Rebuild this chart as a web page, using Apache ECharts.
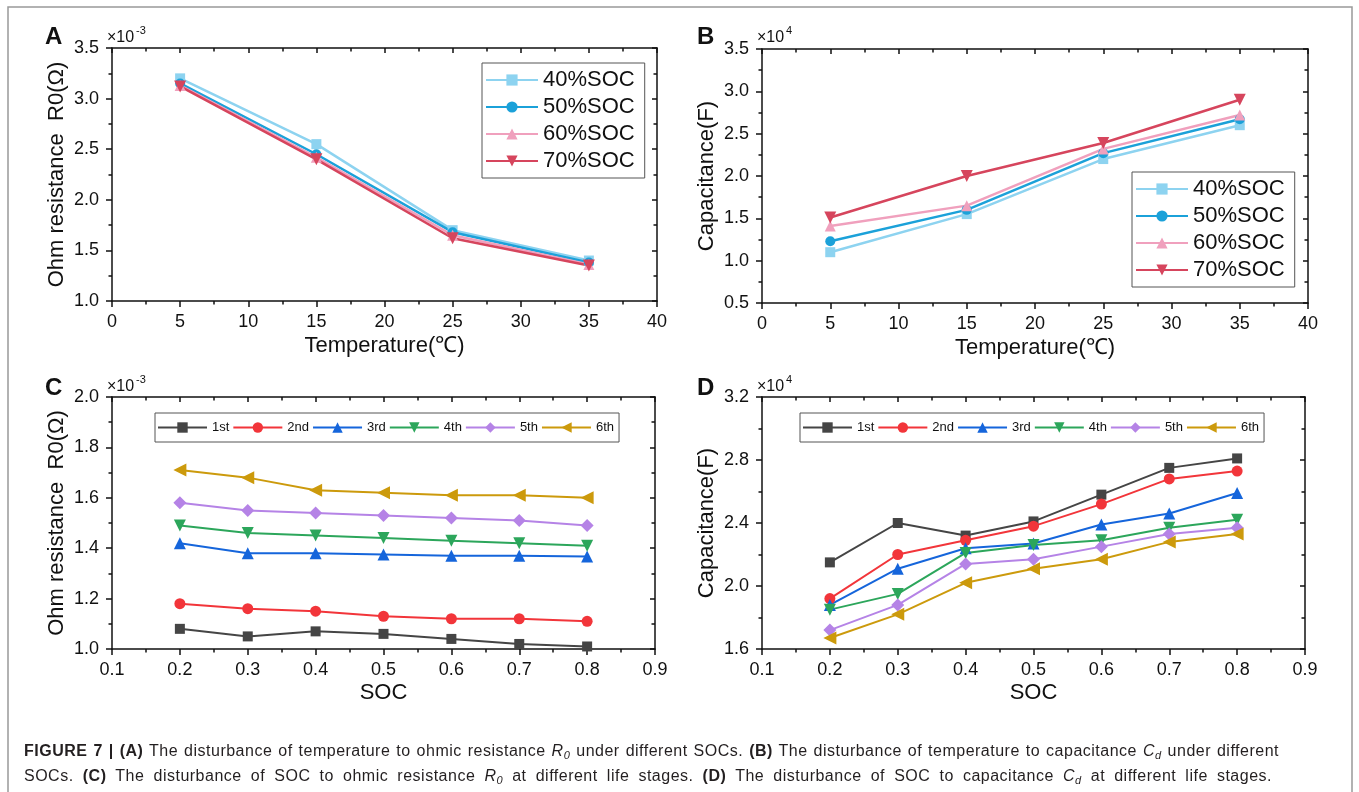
<!DOCTYPE html>
<html>
<head>
<meta charset="utf-8">
<title>Figure 7</title>
<script src="https://cdn.jsdelivr.net/npm/echarts@6/dist/echarts.min.js"></script>
<style>
html, body { margin: 0; padding: 0; background: #fff; }
#chart { position: absolute; left: 0; top: 0; width: 1359px; height: 792px; }
.caption {
  position: absolute;
  left: 24px;
  font-family: 'Liberation Sans', Arial, sans-serif;
  font-size: 16px;
  letter-spacing: 0.5px;
  line-height: 18px;
  color: #231f20;
  text-align: justify;
  text-align-last: justify;
}
.caption sub { font-size: 11px; line-height: 0; vertical-align: -3px; }
</style>
</head>
<body>
<div id="chart"></div>
<div class="caption" style="top:742px;width:1255px"><b>FIGURE 7 | (A)</b> The disturbance of temperature to ohmic resistance <i>R<sub>0</sub></i> under different SOCs. <b>(B)</b> The disturbance of temperature to capacitance <i>C<sub>d</sub></i> under different</div>
<div class="caption" style="top:767px;width:1248px">SOCs. <b>(C)</b> The disturbance of SOC to ohmic resistance <i>R<sub>0</sub></i> at different life stages. <b>(D)</b> The disturbance of SOC to capacitance <i>C<sub>d</sub></i> at different life stages.</div>

<script>
// panels A/B: temperature sweep at four SOC levels
var TEMPS = [5, 15, 25, 35]
var SOC_LEVELS = ['40%SOC', '50%SOC', '60%SOC', '70%SOC']
// ohm resistance, x10^-3 Ohm
var R0_BY_TEMP = [
  [3.20, 2.55, 1.70, 1.40],
  [3.15, 2.45, 1.68, 1.38],
  [3.13, 2.42, 1.65, 1.36],
  [3.12, 2.40, 1.62, 1.35]
]
// capacitance, x10^4 F
var CAP_BY_TEMP = [
  [1.10, 1.55, 2.20, 2.60],
  [1.23, 1.60, 2.27, 2.67],
  [1.41, 1.65, 2.32, 2.72],
  [1.51, 2.00, 2.39, 2.90]
]

// panels C/D: SOC sweep at six life stages
var SOC_POINTS = [0.2, 0.3, 0.4, 0.5, 0.6, 0.7, 0.8]
var LIFE_STAGES = ['1st', '2nd', '3rd', '4th', '5th', '6th']
var R0_BY_SOC = [
  [1.08, 1.05, 1.07, 1.06, 1.04, 1.02, 1.01],
  [1.18, 1.16, 1.15, 1.13, 1.12, 1.12, 1.11],
  [1.42, 1.38, 1.38, 1.375, 1.37, 1.37, 1.367],
  [1.49, 1.46, 1.45, 1.44, 1.43, 1.42, 1.41],
  [1.58, 1.55, 1.54, 1.53, 1.52, 1.51, 1.49],
  [1.71, 1.68, 1.63, 1.62, 1.61, 1.61, 1.60]
]
var CAP_BY_SOC = [
  [2.15, 2.40, 2.32, 2.41, 2.58, 2.75, 2.81],
  [1.92, 2.20, 2.29, 2.38, 2.52, 2.68, 2.73],
  [1.88, 2.11, 2.24, 2.27, 2.39, 2.46, 2.59],
  [1.85, 1.95, 2.21, 2.26, 2.29, 2.37, 2.42],
  [1.72, 1.88, 2.14, 2.17, 2.25, 2.33, 2.37],
  [1.67, 1.82, 2.02, 2.11, 2.17, 2.28, 2.33]
]

var FONT = "'Liberation Sans', Arial, sans-serif"
var INK = '#111'
var SOC_COLORS = ['#8dd3f0', '#1ba1d9', '#f0a0bd', '#d6455d']
var SOC_SYMBOLS = ['rect', 'circle', 'triangle', 'path://M0,0 L10,0 L5,9 Z']
var SOC_SIZES = [10, 10, 11, 12]
var STAGE_COLORS = ['#454545', '#f2353a', '#1565db', '#2ca65b', '#b583e6', '#cc9a0c']
var STAGE_SYMBOLS = ['rect', 'circle', 'triangle', 'path://M0,0 L10,0 L5,9 Z', 'diamond', 'path://M0,5 L9,0 L9,10 Z']
var STAGE_SIZES = [10, 11, 12, 12, 13, 13]

var grids = [
  { left: 112, top: 48, width: 545, height: 253 },
  { left: 762, top: 49, width: 546, height: 254 },
  { left: 112, top: 397, width: 543, height: 252 },
  { left: 762, top: 397, width: 543, height: 252 }
]

var xAxes = []
var yAxes = []

function fixed1(v) { return (Math.round(v * 10) / 10).toFixed(1) }
function intLabel(v) { return String(Math.round(v)) }

function baseAxis(gridIndex, pos, min, max, interval, mirror) {
  return {
    type: 'value',
    gridIndex: gridIndex,
    position: pos,
    min: min,
    max: max,
    interval: interval,
    axisLine: { show: true, onZero: false, lineStyle: { color: INK, width: 1.5 } },
    axisTick: { show: true, inside: mirror, length: mirror ? 5 : 6, lineStyle: { color: INK, width: 1.5 } },
    minorTick: { show: true, splitNumber: 2, length: 3.5, lineStyle: { color: INK, width: 1.5 } },
    splitLine: { show: false },
    axisLabel: { show: false }
  }
}

function addAxes(g, xr, yr, xfmt, yfmt, xname, yname, xGap, yGap) {
  var bottom = baseAxis(g, 'bottom', xr[0], xr[1], xr[2], false)
  bottom.axisLabel = { show: true, fontSize: 18, color: INK, fontFamily: FONT, margin: 12, formatter: xfmt, hideOverlap: false }
  bottom.name = xname
  bottom.nameLocation = 'middle'
  bottom.nameGap = xGap
  bottom.nameTextStyle = { fontSize: 22, color: INK, fontFamily: FONT }
  xAxes.push(bottom)
  xAxes.push(baseAxis(g, 'top', xr[0], xr[1], xr[2], true))

  var left = baseAxis(g, 'left', yr[0], yr[1], yr[2], false)
  left.axisLabel = { show: true, fontSize: 18, color: INK, fontFamily: FONT, margin: 13, formatter: yfmt, hideOverlap: false }
  left.name = yname
  left.nameLocation = 'middle'
  left.nameGap = yGap
  left.nameTextStyle = { fontSize: 22, color: INK, fontFamily: FONT }
  yAxes.push(left)
  yAxes.push(baseAxis(g, 'right', yr[0], yr[1], yr[2], true))
}

addAxes(0, [0, 40, 5], [1.0, 3.5, 0.5], intLabel, fixed1, 'Temperature(\u2103)', 'Ohm resistance  R0(\u03A9)', 34, 44)
addAxes(1, [0, 40, 5], [0.5, 3.5, 0.5], intLabel, fixed1, 'Temperature(\u2103)', 'Capacitance(F)', 34, 44)
addAxes(2, [0.1, 0.9, 0.1], [1.0, 2.0, 0.2], fixed1, fixed1, 'SOC', 'Ohm resistance  R0(\u03A9)', 33, 44)
addAxes(3, [0.1, 0.9, 0.1], [1.6, 3.2, 0.4], fixed1, fixed1, 'SOC', 'Capacitance(F)', 33, 44)

var series = []

function addSeries(g, xs, rows, names, colors, symbols, sizes, width) {
  rows.forEach(function (row, i) {
    series.push({
      type: 'line',
      name: names[i],
      xAxisIndex: g * 2,
      yAxisIndex: g * 2,
      data: xs.map(function (x, j) { return [x, row[j]] }),
      symbol: symbols[i],
      symbolSize: sizes[i],
      lineStyle: { color: colors[i], width: width },
      itemStyle: { color: colors[i] }
    })
  })
}

addSeries(0, TEMPS, R0_BY_TEMP, SOC_LEVELS, SOC_COLORS, SOC_SYMBOLS, SOC_SIZES, 2.5)
addSeries(1, TEMPS, CAP_BY_TEMP, SOC_LEVELS, SOC_COLORS, SOC_SYMBOLS, SOC_SIZES, 2.5)
addSeries(2, SOC_POINTS, R0_BY_SOC, LIFE_STAGES, STAGE_COLORS, STAGE_SYMBOLS, STAGE_SIZES, 2)
addSeries(3, SOC_POINTS, CAP_BY_SOC, LIFE_STAGES, STAGE_COLORS, STAGE_SYMBOLS, STAGE_SIZES, 2)

function socLegend(left, top) {
  return {
    data: SOC_LEVELS,
    orient: 'vertical',
    left: left,
    top: top,
    padding: [6, 10, 6, 3],
    itemGap: 5,
    itemWidth: 52,
    itemHeight: 14,
    borderColor: '#555',
    borderWidth: 1,
    selectedMode: false,
    textStyle: { fontSize: 22, color: INK, fontFamily: FONT }
  }
}

function stageLegend(left, top) {
  return {
    data: LIFE_STAGES,
    orient: 'horizontal',
    left: left,
    top: top,
    padding: [8, 5, 8, 2],
    itemGap: 3,
    itemWidth: 49,
    itemHeight: 13,
    borderColor: '#555',
    borderWidth: 1,
    selectedMode: false,
    textStyle: { fontSize: 13, color: INK, fontFamily: FONT }
  }
}

function txt(x, y, text, size, bold) {
  return {
    type: 'text',
    x: x,
    y: y,
    style: { text: text, fontSize: size, fontWeight: bold ? 'bold' : 'normal', fontFamily: FONT, fill: INK, verticalAlign: 'middle' }
  }
}

var graphics = [
  { type: 'rect', shape: { x: 8, y: 7, width: 1344, height: 820 }, style: { fill: 'none', stroke: '#999', lineWidth: 1.5 }, silent: true },
  txt(45, 37, 'A', 24, true),
  txt(697, 37, 'B', 24, true),
  txt(45, 388, 'C', 24, true),
  txt(697, 388, 'D', 24, true),
  txt(107, 38, '\u00d710', 16), txt(136, 31, '-3', 11),
  txt(757, 38, '\u00d710', 16), txt(786, 31, '4', 11),
  txt(107, 387, '\u00d710', 16), txt(136, 380, '-3', 11),
  txt(757, 387, '\u00d710', 16), txt(786, 380, '4', 11)
]

var chart = echarts.init(document.getElementById('chart'))
chart.setOption({
  animation: false,
  backgroundColor: '#fff',
  textStyle: { fontFamily: FONT },
  grid: grids,
  xAxis: xAxes,
  yAxis: yAxes,
  legend: [
    socLegend(482, 63),
    socLegend(1132, 172),
    stageLegend(155, 413),
    stageLegend(800, 413)
  ],
  series: series,
  graphic: graphics
})
</script>
</body>
</html>
